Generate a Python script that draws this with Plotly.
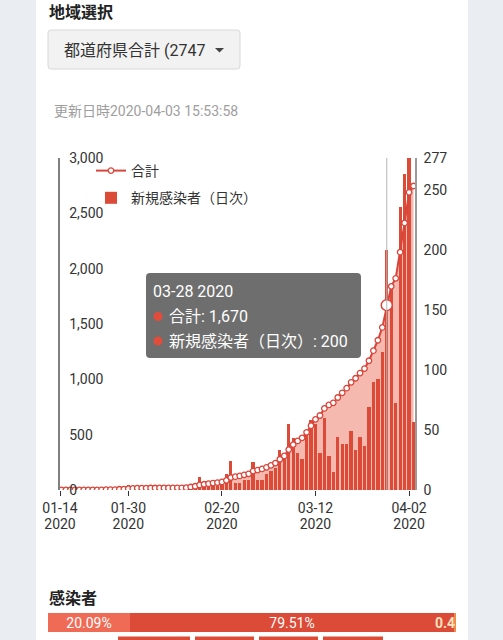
import pandas as pd
import plotly.graph_objects as go

W, H = 503, 640


def px(x):
    return x / W


def py(y):
    return 1 - y / H


# ---------------- data ----------------
dates = pd.date_range("2020-01-15", "2020-04-03", freq="D")

daily_new = [
    1, 0, 0, 0, 0, 0, 0, 0, 0, 1, 1, 1, 0, 3, 1, 4, 2,            # 01-15 .. 01-31
    3, 0, 0, 1, 0, 1, 0, 0, 0, 1, 0, 1,                           # 02-01 .. 02-12
    4, 6, 11, 5, 4, 5, 3, 5, 13, 24, 6, 6, 8, 8, 23, 8, 8,        # 02-13 .. 02-29
    13, 16, 18, 33, 28, 55, 43, 31, 26, 48, 58, 55, 31, 60, 28,   # 03-01 .. 03-15
    15, 44, 38, 38, 49, 33, 44, 37, 69, 90, 93, 115, 200, 170,    # 03-16 .. 03-29
    73, 236,                                                      # 03-30 .. 03-31
    264, 277, 57,                                                 # 04-01 .. 04-03
]

cumulative = [
    1, 1, 1, 1, 1, 1, 1, 1, 1, 2, 3, 4, 4, 7, 8, 12, 14,
    17, 17, 17, 18, 18, 19, 19, 19, 19, 20, 20, 21,
    27, 34, 46, 52, 57, 63, 67, 73, 87, 113, 120, 127, 137, 146, 171, 180, 190,
    205, 223, 243, 278, 308, 365, 410, 443, 471, 521, 581, 638, 673, 737, 769,
    788, 836, 878, 920, 973, 1010, 1057, 1097, 1168, 1259, 1353, 1469, 1670, 1840,
    1913, 2149,
    2413, 2690, 2747,
]

left_ticks = [0, 500, 1000, 1500, 2000, 2500, 3000]
right_ticks = [0, 50, 100, 150, 200, 250, 277]
x_tick_vals = ["2020-01-14 16:00", "2020-01-30", "2020-02-20", "2020-03-12", "2020-04-02"]
x_tick_text = ["01-14", "01-30", "02-20", "03-12", "04-02"]
x_year_text = ["2020", "2020", "2020", "2020", "2020"]

highlight_date = "2020-03-28"

share_labels = ["20.09%", "79.51%", "0.4"]
share_values = [20.09, 79.51, 0.40]

# ---------------- styling ----------------
FONT = "Roboto, 'Noto Sans CJK JP', sans-serif"
RED = "#dc4a38"
LINE_RED = "#d8453a"
FILL = "#f5b9b0"
BG = "#eaedf2"

hi = list(dates.strftime("%Y-%m-%d")).index(highlight_date)

fig = go.Figure()

# area under cumulative line (base layer)
fig.add_trace(go.Scatter(
    x=dates, y=cumulative, mode="lines", line=dict(width=0, color=FILL),
    fill="tozeroy", fillcolor=FILL, showlegend=False, hoverinfo="skip",
    xaxis="x", yaxis="y",
))

# daily bars (right axis)
fig.add_trace(go.Bar(
    x=dates, y=daily_new, name="新規感染者（日次）", marker=dict(color=RED, line=dict(width=0)),
    width=0.74 * 86400000, xaxis="x", yaxis="y2", legendgroup="b", legendrank=2,
))

# cumulative line (top layer)
fig.add_trace(go.Scatter(
    x=dates, y=cumulative, name="合計", mode="lines+markers",
    line=dict(color=LINE_RED, width=2),
    marker=dict(size=5.5, color="white", line=dict(color=LINE_RED, width=1.3)),
    xaxis="x", yaxis="y3", legendgroup="a", legendrank=1,
))

# highlighted point
fig.add_trace(go.Scatter(
    x=[dates[hi]], y=[cumulative[hi]], mode="markers", showlegend=False,
    marker=dict(size=11, color="white", line=dict(color=LINE_RED, width=1.5)),
    xaxis="x", yaxis="y3", hoverinfo="skip",
))

# stacked share bar
share_colors = ["#ef6b56", "#dc4a38", "#f08a4b"]
for lab, val, col in zip(share_labels, share_values, share_colors):
    fig.add_trace(go.Bar(
        x=[val], y=[0], orientation="h", width=1, marker=dict(color=col, line=dict(width=0)),
        text=[lab] if val >= 1 else [""], textposition="inside",
        insidetextanchor="middle", constraintext="none",
        textfont=dict(color="white", size=14),
        showlegend=False, xaxis="x2", yaxis="y4", hoverinfo="skip",
    ))


def rrect(x0, y0, x1, y1, r):
    X0, X1 = px(x0), px(x1)
    Y0, Y1 = py(y0), py(y1)
    rx, ry = r / W, r / H
    return (f"M{X0+rx},{Y0} L{X1-rx},{Y0} Q{X1},{Y0} {X1},{Y0-ry} "
            f"L{X1},{Y1+ry} Q{X1},{Y1} {X1-rx},{Y1} L{X0+rx},{Y1} "
            f"Q{X0},{Y1} {X0},{Y1+ry} L{X0},{Y0-ry} Q{X0},{Y0} {X0+rx},{Y0} Z")


shapes = [
    # white card
    dict(type="rect", xref="paper", yref="paper", x0=px(36), x1=px(468), y0=-0.01, y1=1.01,
         fillcolor="white", line=dict(width=0), layer="below"),
    # dropdown button
    dict(type="path", xref="paper", yref="paper", path=rrect(48, 30, 240, 69, 3),
         fillcolor="#f2f2f2", line=dict(color="#d8d8d8", width=1), layer="below"),
    # caret
    dict(type="path", xref="paper", yref="paper",
         path=f"M{px(215)},{py(48)} L{px(224)},{py(48)} L{px(219.5)},{py(52.5)} Z",
         fillcolor="#444", line=dict(width=0), layer="below"),
    # axis pointer line
    dict(type="line", xref="x", yref="paper", x0=highlight_date, x1=highlight_date,
         y0=py(490), y1=py(158), line=dict(color="#b4b4b4", width=1), layer="above"),
    # tooltip box
    dict(type="path", xref="paper", yref="paper", path=rrect(146, 273, 361, 358, 4),
         fillcolor="#6e6e6e", line=dict(width=0), layer="above"),
    dict(type="circle", xref="paper", yref="paper", x0=px(153.5), x1=px(162.5),
         y0=py(312), y1=py(321), fillcolor="#e24c3b", line=dict(width=0), layer="above"),
    dict(type="circle", xref="paper", yref="paper", x0=px(153.5), x1=px(162.5),
         y0=py(336.5), y1=py(345.5), fillcolor="#e24c3b", line=dict(width=0), layer="above"),
]
# next-row boxes cut off at the bottom
for a, b in [(118, 190), (195, 254), (259, 318), (323, 383)]:
    shapes.append(dict(type="rect", xref="paper", yref="paper", x0=px(a), x1=px(b),
                       y0=py(641), y1=py(636.5), fillcolor=RED, line=dict(width=0), layer="above"))

annotations = [
    dict(text="<b>地域選択</b>", x=px(47), y=py(12), xanchor="left", yanchor="middle",
         font=dict(size=16, color="#222")),
    dict(text="都道府県合計 (2747", x=px(62), y=py(50.5), xanchor="left", yanchor="middle",
         font=dict(size=16, color="#333")),
    dict(text="更新日時2020-04-03 15:53:58", x=px(52), y=py(111), xanchor="left", yanchor="middle",
         font=dict(size=14, color="#9e9e9e")),
    dict(text=f"{dates[hi].strftime('%m-%d %Y')}", x=px(151), y=py(291), xanchor="left",
         yanchor="middle", font=dict(size=16, color="white")),
    dict(text=f"合計: {cumulative[hi]:,}", x=px(167), y=py(316.5), xanchor="left",
         yanchor="middle", font=dict(size=16, color="white")),
    dict(text=f"新規感染者（日次）: {daily_new[hi]:,}", x=px(167), y=py(341), xanchor="left",
         yanchor="middle", font=dict(size=16, color="white")),
    dict(text="<b>感染者</b>", x=px(47), y=py(598), xanchor="left", yanchor="middle",
         font=dict(size=16, color="#222")),
    dict(text="<b>" + share_labels[2] + "</b>", x=px(457), y=py(622.5), xanchor="right",
         yanchor="middle", font=dict(size=14, color="#fbe3bd")),
]
for a in annotations:
    a.update(xref="paper", yref="paper", showarrow=False)

XRANGE = ["2020-01-14 16:00", "2020-04-03 08:00"]

fig.update_layout(
    width=W, height=H, autosize=False,
    margin=dict(l=0, r=0, t=0, b=0, pad=0),
    paper_bgcolor=BG, plot_bgcolor="rgba(0,0,0,0)",
    font=dict(family=FONT, size=14, color="#333"),
    barmode="stack", bargap=0,
    showlegend=True,
    legend=dict(x=px(91), y=py(155), xanchor="left", yanchor="top",
                bgcolor="rgba(0,0,0,0)", font=dict(size=14, color="#333"),
                tracegroupgap=6, itemclick=False),
    xaxis=dict(type="date", domain=[px(60), px(415)], automargin=False,
               range=XRANGE, tickvals=x_tick_vals, ticktext=x_tick_text,
               ticks="outside", ticklen=5, tickcolor="#333", tickwidth=1,
               showline=False, showgrid=False, zeroline=False,
               tickfont=dict(size=14, color="#333"), anchor="y"),
    xaxis3=dict(type="date", overlaying="x", side="bottom", automargin=False,
                range=XRANGE, tickvals=x_tick_vals, ticktext=x_year_text,
                ticks="", ticklabelstandoff=24,
                showline=False, showgrid=False, zeroline=False,
                tickfont=dict(size=14, color="#333"), anchor="y"),
    yaxis=dict(domain=[py(490), py(158)], range=[0, 3000], tickvals=left_ticks, automargin=False,
               tickformat=",", side="left", showline=True, linecolor="#808080", linewidth=2,
               ticks="", showgrid=False, zeroline=False,
               ticklabelposition="inside", ticklabeloverflow="allow", ticklabelstandoff=9,
               tickfont=dict(size=14, color="#333"), anchor="x"),
    yaxis2=dict(overlaying="y", side="right", range=[0, 277], tickvals=right_ticks,
                automargin=False,
                showline=True, linecolor="#9a9a9a", linewidth=1.5, ticks="",
                showgrid=False, zeroline=False, ticklabelstandoff=4,
                tickfont=dict(size=14, color="#333"), anchor="x"),
    yaxis3=dict(overlaying="y", range=[0, 3000], visible=False, anchor="x", automargin=False),
    xaxis2=dict(domain=[px(48), px(456)], range=[0, 100], visible=False, anchor="y4",
                automargin=False),
    yaxis4=dict(domain=[py(632), py(613)], range=[-0.5, 0.5], visible=False, anchor="x2",
                automargin=False),
    shapes=shapes,
    annotations=annotations,
    hovermode=False,
)

# invisible carrier so the year axis is rendered
fig.add_trace(go.Scatter(x=[dates[0]], y=[0], mode="markers", marker=dict(opacity=0),
                         showlegend=False, hoverinfo="skip", xaxis="x3", yaxis="y3"))

fig.write_html(
    "out.html",
    config={"displayModeBar": False},
    post_script="document.body.style.margin='0';document.body.style.overflow='hidden';",
)
